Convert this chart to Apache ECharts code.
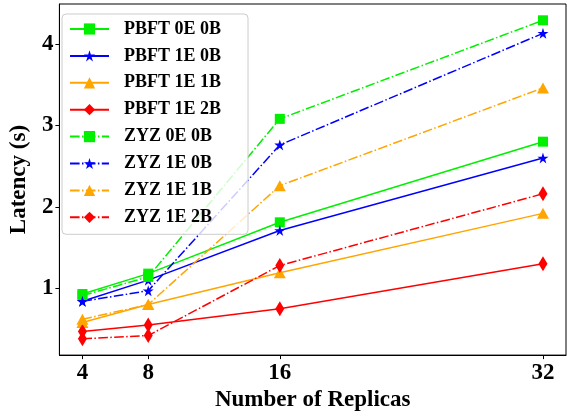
<!DOCTYPE html>
<html>
<head>
<meta charset="utf-8">
<script src="https://cdn.jsdelivr.net/npm/echarts@6/dist/echarts.min.js"></script>
<style>html,body{margin:0;padding:0;background:#fff}#c{width:567px;height:417px}</style>
</head>
<body>
<div id="c"></div>
<script>
const replicas = [4, 8, 16, 32];
const xTicks = [4, 8, 16, 32];
const yTicks = [1, 2, 3, 4];

const pbft0E0B = [0.93, 1.18, 1.81, 2.80];
const pbft1E0B = [0.84, 1.10, 1.71, 2.60];
const pbft1E1B = [0.58, 0.80, 1.19, 1.92];
const pbft1E2B = [0.47, 0.55, 0.75, 1.30];
const zyz0E0B  = [0.91, 1.14, 3.08, 4.29];
const zyz1E0B  = [0.84, 0.97, 2.76, 4.13];
const zyz1E1B  = [0.62, 0.80, 2.26, 3.46];
const zyz1E2B  = [0.38, 0.42, 1.28, 2.16];

const names = ['PBFT 0E 0B','PBFT 1E 0B','PBFT 1E 1B','PBFT 1E 2B','ZYZ 0E 0B','ZYZ 1E 0B','ZYZ 1E 1B','ZYZ 1E 2B'];
const values = [pbft0E0B, pbft1E0B, pbft1E1B, pbft1E2B, zyz0E0B, zyz1E0B, zyz1E1B, zyz1E2B];
const colors = ['#00f000','#0000ff','#ffa500','#ff0000','#00f000','#0000ff','#ffa500','#ff0000'];

const STAR = 'path://M50,0 L61.2,34.5 L97.6,34.5 L68.2,55.9 L79.4,90.5 L50,69.1 L20.6,90.5 L31.8,55.9 L2.4,34.5 L38.8,34.5 Z';
const symbols = ['rect', STAR, 'triangle', 'diamond'];
const sizes = [[10,10],[11,11],[12,11],[9,15]];

const FONT = '"Liberation Serif", "Times New Roman", serif';

const series = names.map((n, i) => ({
  name: n,
  type: 'line',
  data: replicas.map((x, j) => [x, values[i][j]]),
  symbol: symbols[i % 4],
  symbolSize: sizes[i % 4],
  showAllSymbol: true,
  itemStyle: { color: colors[i] },
  lineStyle: {
    color: colors[i],
    width: 1.5,
    type: i < 4 ? 'solid' : [9.6, 2.4, 1.5, 2.4]
  },
  animation: false
}));

const chart = echarts.init(document.getElementById('c'), null, { renderer: 'canvas' });
chart.setOption({
  backgroundColor: '#fff',
  animation: false,
  grid: { left: 52, top: 4, right: 1, bottom: 52, show: true, borderColor: '#000', borderWidth: 1, backgroundColor: 'transparent' },
  legend: {
    orient: 'vertical',
    left: 62, top: 14,
    padding: [6, 27, 8, 7],
    itemWidth: 39, itemHeight: 14, itemGap: 8.9,
    backgroundColor: 'rgba(255,255,255,0.8)',
    borderColor: '#cccccc', borderWidth: 1, borderRadius: 4,
    textStyle: { fontFamily: FONT, fontWeight: 'bold', fontSize: 18, color: '#000', padding: [0,0,0,10] },
    data: names
  },
  xAxis: {
    type: 'value', min: 2.6, max: 33.4,
    name: 'Number of Replicas', nameLocation: 'middle', nameGap: 30,
    nameTextStyle: { fontFamily: FONT, fontWeight: 'bold', fontSize: 23, color: '#000' },
    axisLine: { lineStyle: { color: '#000', width: 1 } },
    axisTick: { show: true, length: 4, customValues: xTicks, lineStyle: { color: '#000' } },
    axisLabel: { customValues: xTicks, margin: 6, fontFamily: FONT, fontWeight: 'bold', fontSize: 23, color: '#000' },
    splitLine: { show: false }
  },
  yAxis: {
    type: 'value', min: 0.18, max: 4.49,
    name: 'Latency (s)', nameLocation: 'middle', nameGap: 28,
    nameTextStyle: { fontFamily: FONT, fontWeight: 'bold', fontSize: 23, color: '#000' },
    axisLine: { show: true, lineStyle: { color: '#000', width: 1 } },
    axisTick: { show: true, length: 4, customValues: yTicks, lineStyle: { color: '#000' } },
    axisLabel: { customValues: yTicks, margin: 6, fontFamily: FONT, fontWeight: 'bold', fontSize: 23, color: '#000' },
    splitLine: { show: false }
  },
  series: series
});
</script>
</body>
</html>
